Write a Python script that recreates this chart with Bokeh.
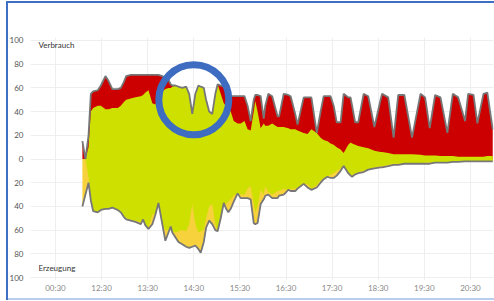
import numpy as np
from bokeh.plotting import figure
from bokeh.models import Range1d, FixedTicker, Label
from bokeh.embed import file_html
from bokeh.resources import INLINE

# ---- data ----
times = ["12:05", "12:09", "12:13", "12:16", "12:19", "12:25", "12:29", "12:35", "12:39", "12:44",
         "12:51", "12:55", "12:59", "13:02", "13:08", "13:14", "13:21", "13:24", "13:27", "13:31",
         "13:36", "13:40", "13:44", "13:49", "13:53", "13:57", "14:00", "14:02", "14:06", "14:10",
         "14:15", "14:20", "14:24", "14:28", "14:32", "14:36", "14:39", "14:43", "14:46", "14:50",
         "14:54", "14:58", "15:01", "15:05", "15:09", "15:12", "15:15", "15:18", "15:22", "15:27",
         "15:31", "15:36", "15:40", "15:44", "15:48", "15:50", "15:53", "15:57", "16:01", "16:03",
         "16:07", "16:12", "16:19", "16:21", "16:27", "16:33", "16:36", "16:42", "16:45", "16:53",
         "16:58", "17:03", "17:10", "17:15", "17:19", "17:24", "17:28", "17:32", "17:36", "17:41",
         "17:45", "17:51", "17:54", "17:56", "18:00", "18:04", "18:11", "18:17", "18:25", "18:33",
         "18:35", "18:43", "18:50", "18:56", "19:04", "19:14", "19:25", "19:31", "19:37", "19:44",
         "19:51", "20:00", "20:07", "20:14", "20:23", "20:27", "20:34", "20:39", "20:47", "20:52",
         "20:59"]

# total consumption (Verbrauch)
verbrauch = [15, 0, 20, 55, 57, 58, 62, 70, 66, 59,
             59, 60, 65, 70, 71, 71, 71, 71, 71, 71,
             71, 71, 71, 70, 68, 67, 63, 62, 62, 61,
             60, 61, 55, 38, 55, 62, 61, 60, 50, 40,
             38, 55, 63, 62, 61, 58, 55, 53, 53, 53,
             53, 53, 45, 32, 50, 54, 54, 53, 34, 45,
             55, 53, 36, 36, 55, 54, 53, 38, 29, 52,
             52, 52, 22, 40, 53, 53, 53, 45, 31, 31,
             55, 52, 52, 45, 31, 31, 55, 53, 27, 50,
             55, 52, 18, 54, 54, 18, 55, 52, 26, 54,
             52, 22, 55, 52, 32, 55, 54, 30, 55, 56,
             25]

# self-consumption shown on the consumption side
eigen_oben = [0, 0, 10, 40, 43, 45, 45, 42, 42, 43,
              43, 45, 48, 50, 51, 52, 53, 54, 56, 58,
              47, 46, 52, 57, 59, 60, 60, 61, 62, 61,
              60, 61, 55, 38, 55, 62, 61, 60, 50, 40,
              38, 55, 63, 55, 47, 45, 42, 40, 32, 30,
              30, 32, 25, 24, 40, 49, 40, 26, 30, 28,
              28, 30, 27, 27, 27, 26, 25, 25, 24, 22,
              21, 25, 22, 18, 16, 15, 13, 12, 10, 8,
              5, 12, 14, 13, 12, 11, 10, 9, 7, 6,
              6, 5, 4, 4, 4, 4, 3.5, 3, 3, 3,
              2.5, 2.5, 2.5, 2, 2, 2, 2, 2, 2, 2.5,
              2.5]

# total generation (Erzeugung)
erzeugung = [40, 30, 20, 35, 44, 45, 43, 42, 42, 41,
             43, 45, 49, 51, 52, 53, 55, 51, 56, 59,
             55, 47, 37, 55, 69, 62, 57, 62, 66, 70,
             72, 74, 75, 74, 73, 76, 79, 70, 58, 52,
             55, 60, 61, 50, 37, 42, 45, 42, 36, 29,
             33, 33, 33, 34, 54, 55, 54, 38, 34, 31,
             30, 33, 33, 31, 30, 26, 27, 27, 25, 21,
             24, 26, 24, 20, 17, 15, 16, 16, 14, 10,
             6, 12, 14, 15, 13, 12, 11, 9, 8, 7,
             7, 6, 5, 5, 4, 4, 4, 4, 4, 3,
             3, 3, 2.5, 2.5, 2, 2, 2, 2, 2, 2,
             2]

# self-consumption shown on the generation side
eigen_unten = [0, 0, 15, 35, 43, 45, 43, 42, 42, 41,
               43, 45, 48, 50, 51, 52, 53, 51, 56, 58,
               47, 46, 37, 55, 60, 60, 57, 61, 62, 61,
               60, 61, 55, 38, 55, 62, 61, 60, 50, 40,
               38, 55, 61, 50, 37, 38, 36, 34, 31, 29,
               30, 30, 25, 23, 38, 45, 40, 26, 30, 23,
               28, 30, 27, 27, 25, 26, 25, 25, 24, 21,
               21, 25, 22, 18, 16, 15, 13, 12, 10, 8,
               5, 12, 14, 13, 12, 11, 10, 9, 7, 6,
               6, 5, 4, 4, 4, 4, 3.5, 3, 3, 3,
               2.5, 2.5, 2.5, 2, 2, 2, 2, 2, 2, 2,
               2]

tick_hours = [11.5, 12.5, 13.5, 14.5, 15.5, 16.5, 17.5, 18.5, 19.5, 20.5]
tick_labels = ["00:30", "12:30", "13:30", "14:30", "15:30", "16:30", "17:30", "18:30", "19:30", "20:30"]
y_ticks = [-100, -80, -60, -40, -20, 0, 20, 40, 60, 80, 100]
y_labels = ["100", "80", "60", "40", "20", "0", "20", "40", "60", "80", "100"]

# annotation ring (hand-drawn highlight in the reference)
ring_time = "14:30"
ring_value = 50

# ---- build ----
def to_hours(s):
    h, m = s.split(":")
    return int(h) + int(m) / 60.0

t = np.array([to_hours(s) for s in times])
C = np.array(verbrauch, dtype=float)
SU = np.array(eigen_oben, dtype=float)
G = np.array(erzeugung, dtype=float)
SD = np.array(eigen_unten, dtype=float)

RED = "#cc0000"
GREEN = "#cde000"
YELLOW = "#f8d23c"
LINE = "#777777"
BLUE = "#3d6cc0"
FRAME_BLUE = "#3f6fc3"
FRAME_LIGHT = "#b9cdee"
FONT = "Lato"

p = figure(width=494, height=301, output_backend="svg", toolbar_location=None,
           x_range=Range1d(10.958, 21.0), y_range=Range1d(-102.5, 102.5),
           min_border_left=30, min_border_right=1, min_border_top=37, min_border_bottom=21)
# screenshot frame (top, left, bottom edges) painted behind the transparent canvas border
shadows = ["inset 6px 0 0 0 white", "inset 0 1px 0 0 white", "inset 0 -1px 0 0 white",
           f"inset 8px 0 0 0 {FRAME_BLUE}", f"inset 0 3px 0 0 {FRAME_BLUE}",
           f"inset 0 -3px 0 0 {FRAME_LIGHT}"]
p.styles = {"position": "absolute", "left": "0px", "top": "0px",
            "background-color": "white", "box-shadow": ", ".join(shadows)}

p.outline_line_color = None
p.background_fill_color = "white"
p.border_fill_color = None

p.xaxis.ticker = FixedTicker(ticks=tick_hours)
p.xaxis.major_label_overrides = {k: v for k, v in zip(tick_hours, tick_labels)}
p.yaxis.ticker = FixedTicker(ticks=y_ticks)
p.yaxis.major_label_overrides = {k: v for k, v in zip(y_ticks, y_labels)}
for ax in (p.xaxis, p.yaxis):
    ax.axis_line_color = None
    ax.major_tick_line_color = None
    ax.minor_tick_line_color = None
    ax.major_tick_out = 0
    ax.major_tick_in = 0
    ax.minor_tick_out = 0
    ax.minor_tick_in = 0
    ax.major_label_text_font = FONT
    ax.major_label_text_font_size = "8px"
p.xaxis.major_label_text_color = "#8a8a8a"
p.yaxis.major_label_text_color = "#555555"
p.xaxis.major_label_standoff = 2
p.yaxis.major_label_standoff = 7

p.xgrid.grid_line_color = "#eeeeee"
p.ygrid.grid_line_color = "#eeeeee"

# consumption side
p.varea(x=t, y1=0, y2=C, fill_color=RED)
p.varea(x=t, y1=0, y2=SU, fill_color=GREEN)
# generation side
p.varea(x=t, y1=0, y2=-G, fill_color=YELLOW)
p.varea(x=t, y1=0, y2=-SD, fill_color=GREEN)

p.line(t, C, line_color=LINE, line_width=1.8)
p.line(t, -G, line_color=LINE, line_width=1.8)

p.scatter(x=[to_hours(ring_time)], y=[ring_value], marker="circle", size=70,
          fill_color=None, line_color=BLUE, line_width=7)

p.add_layout(Label(x=11.13, y=95.8, text="Verbrauch", text_font=FONT, text_font_size="8px",
                   text_color="#333333", text_baseline="middle"))
p.add_layout(Label(x=11.13, y=-91.6, text="Erzeugung", text_font=FONT, text_font_size="8px",
                   text_color="#333333", text_baseline="middle"))

open("out.html", "w").write(file_html(p, INLINE))
